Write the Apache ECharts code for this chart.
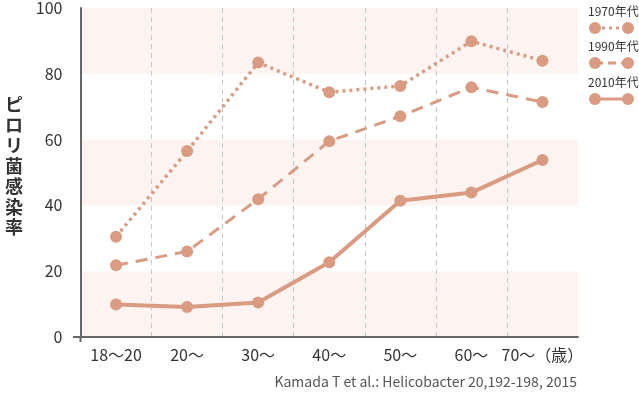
<!DOCTYPE html>
<html><head><meta charset="utf-8">
<script src="https://cdn.jsdelivr.net/npm/echarts@6/dist/echarts.min.js"></script>
<style>html,body{margin:0;padding:0;background:#fff}#c{width:639px;height:394px}</style>
</head><body><div id="c"></div>
<script>
const categories = ['18〜20', '20〜', '30〜', '40〜', '50〜', '60〜', '70〜（歳）'];
const s1970 = [30.5, 56.5, 83.4, 74.4, 76.3, 89.9, 84.0];
const s1990 = [21.8, 26.0, 41.9, 59.5, 67.1, 75.9, 71.4];
const s2010 = [9.9, 9.1, 10.5, 22.7, 41.4, 43.9, 53.8];
const seriesNames = ['1970年代', '1990年代', '2010年代'];
const yTicks = [0, 20, 40, 60, 80, 100];
const yTitle = 'ピロリ菌感染率';
const source = 'Kamada T et al.: Helicobacter 20,192-198, 2015';

const C = '#d99c82';
const G = '#c8c8c8';
const T = 'rgba(0,0,0,0)';
const FONT = "'Noto Sans CJK JP', sans-serif";
const chart = echarts.init(document.getElementById('c'), null, {renderer: 'canvas'});

function legendItem(y, name, dash, w) {
  return [
    {type: 'text', left: 588, top: y - 8, style: {text: name, font: "12px " + FONT, fill: '#333'}},
    {type: 'line', shape: {x1: 595, y1: y + 15, x2: 628, y2: y + 15}, style: {stroke: C, lineWidth: w, lineDash: dash}},
    {type: 'circle', shape: {cx: 595, cy: y + 15, r: 6}, style: {fill: C}},
    {type: 'circle', shape: {cx: 628, cy: y + 15, r: 6}, style: {fill: C}}
  ];
}

const option = {
  animation: false,
  grid: {left: 80.5, right: 61, top: 6, bottom: 57, containLabel: false},
  xAxis: {
    type: 'category', data: categories, boundaryGap: true,
    axisLine: {lineStyle: {color: '#666', width: 2}},
    axisTick: {show: false},
    axisLabel: {color: '#333', fontSize: 16, fontFamily: FONT, margin: 10, interval: 0},
    splitLine: {show: true, interval: 0, lineStyle: {color: [T, G, G, G, G, G, G, T], type: [5, 4], width: 1}}
  },
  yAxis: {
    type: 'value', min: 0, max: 100, interval: 20,
    axisLine: {show: true, lineStyle: {color: '#666', width: 2}},
    axisTick: {show: false},
    axisLabel: {color: '#333', fontSize: 16, fontFamily: FONT, margin: 18,
      formatter: function (v) { return yTicks.indexOf(v) >= 0 ? String(v) : ''; }},
    splitLine: {show: false},
    splitArea: {show: true, areaStyle: {color: ['#fdf4f1', '#ffffff']}}
  },
  series: [
    {name: seriesNames[0], type: 'line', data: s1970, symbol: 'circle', symbolSize: 12,
      itemStyle: {color: C}, lineStyle: {color: C, width: 3.5, type: [3, 4]}},
    {name: seriesNames[1], type: 'line', data: s1990, symbol: 'circle', symbolSize: 12,
      itemStyle: {color: C}, lineStyle: {color: C, width: 3, type: [12, 8]}},
    {name: seriesNames[2], type: 'line', data: s2010, symbol: 'circle', symbolSize: 12,
      itemStyle: {color: C}, lineStyle: {color: C, width: 4}}
  ],
  graphic: [
    {type: 'text', left: 5, top: 94, style: {text: yTitle.split('').join('\n'), font: "bold 18px 'Noto Sans CJK JP', sans-serif", fill: '#333', lineHeight: 20.5}},
    {type: 'line', shape: {x1: 73, y1: 337, x2: 80, y2: 337}, style: {stroke: '#666', lineWidth: 2}},
    {type: 'line', shape: {x1: 80.5, y1: 337, x2: 80.5, y2: 342}, style: {stroke: '#666', lineWidth: 2}},
    {type: 'text', right: 62, top: 375, style: {text: source, font: "14px " + FONT, fill: '#555'}}
  ].concat(legendItem(13, seriesNames[0], [3, 4], 3), legendItem(48, seriesNames[1], [8, 5], 3), legendItem(84, seriesNames[2], null, 3))
};
chart.setOption(option);
</script></body></html>
